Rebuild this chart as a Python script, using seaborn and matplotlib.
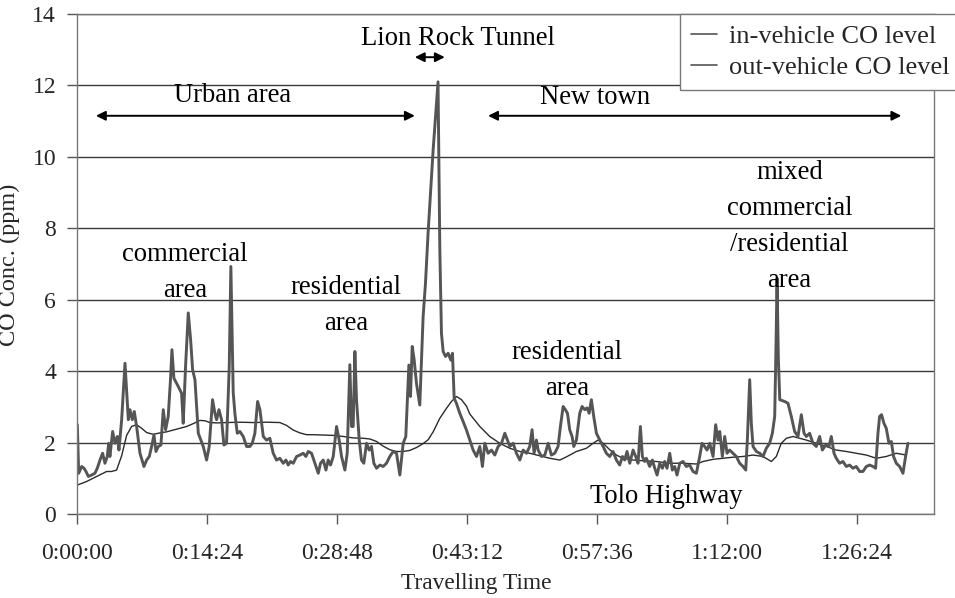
import numpy as np
import pandas as pd
import matplotlib
matplotlib.use("Agg")
import matplotlib.pyplot as plt
import seaborn as sns

# Travelling time in minutes and CO concentration in ppm
out_time = [0.04, 0.19, 0.52, 0.78, 1.0, 1.26, 1.62, 1.99, 2.25, 2.55, 2.84, 3.1, 3.36, 3.51, 3.65,
            3.95, 4.21, 4.47, 4.65, 4.95, 5.32, 5.69, 5.87, 6.13, 6.35, 6.61, 6.98, 7.42, 7.72, 8.01,
            8.27, 8.53, 8.75, 9.01, 9.3, 9.56, 9.82, 10.11, 10.37, 10.52, 10.74, 11.22, 11.59, 11.77,
            12.03, 12.33, 12.59, 12.81, 13.07, 13.44, 13.99, 14.36, 14.65, 15.02, 15.28, 15.47, 15.73,
            16.02, 16.28, 16.57, 16.87, 17.05, 17.31, 17.5, 17.76, 18.05, 18.42, 18.79, 19.16, 19.42,
            19.71, 20.01, 20.27, 20.64, 21.0, 21.37, 21.74, 22.11, 22.48, 22.85, 23.15, 23.4, 23.66,
            23.96, 24.33, 24.7, 25.07, 25.36, 25.62, 25.99, 26.36, 26.73, 26.98, 27.28, 27.58, 27.83,
            28.09, 28.39, 28.76, 29.05, 29.31, 29.68, 29.94, 30.23, 30.42, 30.6, 30.79, 30.97, 31.27,
            31.52, 31.78, 32.08, 32.37, 32.63, 32.89, 33.19, 33.56, 33.92, 34.29, 34.66, 35.03, 35.4,
            35.77, 36.14, 36.43, 36.77, 36.95, 37.14, 37.36, 37.61, 37.98, 38.35, 38.61, 38.9, 39.46,
            40.0, 40.2, 40.38, 40.57, 40.83, 41.12, 41.42, 41.6, 41.79, 42.04, 42.41, 42.78, 43.15,
            43.52, 43.89, 44.26, 44.63, 44.92, 45.18, 45.55, 45.92, 46.29, 46.66, 47.03, 47.4, 47.69,
            47.95, 48.32, 48.69, 49.06, 49.43, 49.8, 50.16, 50.42, 50.64, 50.9, 51.09, 51.46, 51.83,
            52.2, 52.56, 52.93, 53.3, 53.56, 53.86, 54.11, 54.34, 54.59, 54.85, 55.04, 55.33, 55.7,
            55.96, 56.26, 56.51, 56.74, 56.99, 57.25, 57.55, 57.92, 58.29, 58.65, 59.02, 59.39, 59.76,
            60.13, 60.43, 60.68, 60.94, 61.24, 61.61, 61.9, 62.16, 62.42, 62.64, 62.9, 63.08, 63.45,
            63.75, 64.01, 64.27, 64.56, 64.86, 65.11, 65.37, 65.67, 65.96, 66.22, 66.48, 66.78, 67.14,
            67.51, 67.88, 68.25, 68.62, 68.99, 69.25, 69.54, 69.8, 70.1, 70.47, 70.76, 71.02, 71.21,
            71.5, 71.76, 72.02, 72.31, 72.68, 73.05, 73.42, 73.79, 74.09, 74.27, 74.53, 74.71, 74.9,
            75.27, 75.64, 76.0, 76.37, 76.74, 77.04, 77.3, 77.45, 77.56, 77.7, 77.86, 78.4, 78.77,
            79.14, 79.51, 79.88, 80.25, 80.55, 80.8, 81.17, 81.54, 81.91, 82.28, 82.58, 82.94, 83.31,
            83.57, 83.87, 84.12, 84.49, 84.86, 85.23, 85.6, 85.97, 86.34, 86.71, 87.08, 87.45, 87.82,
            88.19, 88.48, 88.74, 88.92, 89.14, 89.4, 89.66, 89.96, 90.22, 90.47, 90.77, 91.14, 91.51,
            91.8, 92.06]
out_co = [2.50, 1.14, 1.33, 1.28, 1.19, 1.05, 1.09, 1.14, 1.28, 1.51, 1.70, 1.42, 1.61, 1.98, 1.61,
          2.31, 1.98, 2.17, 1.79, 2.64, 4.22, 2.64, 2.92, 2.64, 2.87, 2.45, 1.70, 1.33, 1.51, 1.61,
          1.89, 2.21, 1.75, 1.89, 1.93, 2.92, 2.36, 2.73, 3.80, 4.60, 3.80, 3.57, 3.38, 2.54,
          4.13, 5.63, 4.88, 4.04, 3.76, 2.26, 1.89, 1.51, 1.89, 3.20, 2.82, 2.64, 2.92,
          2.64, 1.93, 1.98, 4.13, 6.93, 3.40, 2.80, 2.26, 2.31, 2.17, 1.89, 1.89, 1.98,
          2.26, 3.15, 2.92, 2.17, 2.07, 2.12, 1.70, 1.51, 1.56, 1.42, 1.51, 1.37, 1.47,
          1.42, 1.61, 1.65, 1.70, 1.61, 1.75, 1.70, 1.42, 1.14, 1.42, 1.51, 1.23, 1.51,
          1.37, 1.61, 2.45, 2.07, 1.61, 1.23, 1.70, 4.18, 2.45, 2.45, 4.55, 3.20, 2.07,
          1.51, 1.42, 1.98, 1.79, 1.89, 1.42, 1.28, 1.37, 1.33, 1.42, 1.61, 1.75, 1.70,
          1.09, 1.98, 2.17, 4.17, 3.29, 4.69, 4.31, 3.66, 3.05, 5.53, 6.46, 7.87, 10.2,
          12.1, 7.4, 5.06, 4.55, 4.41, 4.50, 4.31, 4.50, 3.24, 3.10, 2.82, 2.59, 2.35,
          2.07, 1.79, 1.61, 1.89, 1.33, 1.98, 1.70, 1.79, 1.65, 1.89, 1.98, 2.26, 2.07,
          1.89, 1.98, 1.70, 1.51, 1.79, 1.70, 1.89, 2.36, 1.70, 2.07, 1.79, 1.61, 1.65,
          1.98, 1.65, 1.70, 1.89, 2.45, 3.01, 2.92, 2.82, 2.36, 2.17, 1.89, 2.07, 2.82,
          3.01, 2.92, 2.97, 2.82, 3.20, 2.73, 2.26, 2.07, 1.89, 1.70, 1.61, 1.75, 1.51,
          1.37, 1.61, 1.51, 1.75, 1.42, 1.79, 1.61, 1.42, 2.45, 1.61, 1.47, 1.56, 1.33,
          1.51, 1.28, 1.09, 1.42, 1.28, 1.47, 1.28, 1.70, 1.23, 1.33, 1.09, 1.42, 1.47,
          1.33, 1.37, 1.19, 1.14, 1.61, 1.98, 1.89, 1.79, 1.98, 1.61, 2.50, 2.07, 2.31,
          1.61, 2.17, 1.70, 1.79, 1.70, 1.61, 1.42, 1.33, 1.23, 2.07, 3.76, 2.54, 1.89,
          1.75, 1.70, 1.61, 1.84, 1.98, 2.26, 2.73, 4.80, 6.60, 4.40, 3.20, 3.15, 3.10,
          2.73, 2.31, 2.17, 2.78, 2.26, 2.17, 2.26, 1.98, 1.89, 2.17, 1.79, 1.93, 1.89,
          2.17, 1.70, 1.56, 1.42, 1.47, 1.33, 1.37, 1.28, 1.33, 1.19, 1.19, 1.33, 1.37,
          1.33, 1.28, 2.26, 2.73, 2.78, 2.54, 2.40, 1.98, 2.03, 1.61, 1.42, 1.33, 1.14,
          1.61, 1.98]

in_time = [0.04, 1.07, 2.18, 3.29, 3.84, 4.39, 4.95, 5.5, 6.05, 6.6, 7.16, 7.72, 8.45, 9.19, 9.93,
           10.67, 11.41, 12.15, 12.88, 13.62, 14.18, 14.73, 15.47, 16.57, 18.05, 19.53, 21.0, 22.48,
           23.22, 23.96, 24.7, 25.43, 26.17, 27.28, 28.39, 29.49, 30.6, 31.71, 32.45, 33.19, 33.92,
           34.66, 35.4, 36.14, 36.88, 37.61, 38.35, 38.91, 39.46, 40.2, 40.94, 41.49, 42.04, 42.6,
           43.15, 43.52, 44.63, 45.73, 46.84, 47.95, 49.06, 50.16, 51.27, 52.38, 53.49, 54.23, 55.33,
           56.44, 57.18, 57.73, 58.29, 59.02, 59.76, 60.5, 61.61, 62.72, 64.19, 65.67, 67.14, 68.62,
           69.36, 70.47, 71.57, 72.68, 73.79, 74.9, 76.0, 76.93, 77.48, 78.03, 78.59, 79.33, 80.06,
           80.8, 81.91, 83.02, 84.12, 85.23, 86.34, 87.45, 88.56, 89.66, 90.77, 91.88]
in_co = [0.81, 0.91, 1.05, 1.19, 1.19, 1.23, 1.63, 2.20, 2.45, 2.50, 2.40, 2.28, 2.23, 2.27, 2.30,
         2.35, 2.40, 2.45, 2.53, 2.62, 2.61, 2.56, 2.55, 2.56, 2.57, 2.56, 2.57, 2.56,
         2.48, 2.35, 2.27, 2.22, 2.22, 2.21, 2.20, 2.17, 2.13, 2.12, 2.10, 2.03, 1.90,
         1.80, 1.75, 1.75, 1.78, 1.86, 1.97, 2.08, 2.30, 2.68, 2.96, 3.15, 3.29, 3.20,
         3.02, 2.80, 2.45, 2.17, 1.98, 1.84, 1.75, 1.70, 1.63, 1.56, 1.51, 1.60, 1.75,
         1.84, 1.98, 2.07, 1.98, 1.80, 1.65, 1.56, 1.51, 1.49, 1.47, 1.42, 1.42, 1.40,
         1.47, 1.53, 1.56, 1.59, 1.61, 1.65, 1.61, 1.47, 1.61, 1.98, 2.12, 2.17, 2.12,
         2.07, 1.98, 1.89, 1.79, 1.75, 1.70, 1.65, 1.56, 1.61, 1.70, 1.65]

series_names = ["in-vehicle CO level", "out-vehicle CO level"]
x_ticks = [0, 14.4, 28.8, 43.2, 57.6, 72.0, 86.4]
x_tick_labels = ["0:00:00", "0:14:24", "0:28:48", "0:43:12", "0:57:36", "1:12:00", "1:26:24"]
y_ticks = [0, 2, 4, 6, 8, 10, 12, 14]

# Route segments (start, end) in minutes
urban_span = (2.1, 37.43)
tunnel_span = (37.43, 40.75)
newtown_span = (45.55, 91.33)

sns.set_theme(style="white")
plt.rcParams["font.family"] = ["Liberation Serif", "DejaVu Serif"]

in_df = pd.DataFrame({"time": in_time, "co": in_co})
out_df = pd.DataFrame({"time": out_time, "co": out_co})

fig = plt.figure(figsize=(9.55, 5.98), dpi=100)
ax = fig.add_axes([0.0806, 0.1405, 0.8979, 0.8361])

sns.lineplot(data=in_df, x="time", y="co", ax=ax, color="#2b2b2b", linewidth=1.0,
             label=series_names[0], estimator=None, sort=False)
sns.lineplot(data=out_df, x="time", y="co", ax=ax, color="#555555", linewidth=2.1,
             label=series_names[1], estimator=None, sort=False)

ax.set_xlim(0, 95.0)
ax.set_ylim(0, 14)
ax.set_yticks(y_ticks)
ax.set_xticks(x_ticks)
ax.set_xticklabels(x_tick_labels)
ax.yaxis.grid(True, color="#3a3a3a", linewidth=1.0)
ax.xaxis.grid(False)
for side in ["left", "right", "top", "bottom"]:
    ax.spines[side].set_color("#777777")
    ax.spines[side].set_linewidth(1.0)
ax.tick_params(axis="x", direction="out", length=7, width=1, color="#555555",
               labelsize=17, pad=14, bottom=True)
ax.tick_params(axis="y", direction="out", length=7, width=1, color="#555555",
               labelsize=17, pad=8, left=True)

ax.set_xlabel("Travelling Time", fontsize=16.8)
ax.set_ylabel("CO Conc. (ppm)", fontsize=17.5)
ax.xaxis.set_label_coords(0.466, -0.118)
ax.yaxis.set_label_coords(-0.066, 0.498)

text_kw = dict(fontsize=19.2, ha="center", va="center", color="black")
ax.text(42.25, 13.3, "Lion Rock Tunnel", **text_kw)
ax.text(17.2, 11.72, "Urban area", **text_kw)
ax.text(57.4, 11.66, "New town", **text_kw)
ax.text(11.96, 6.76, "commercial\narea", linespacing=1.58, **text_kw)
ax.text(29.8, 5.83, "residential\narea", linespacing=1.58, **text_kw)
ax.text(54.3, 4.02, "residential\narea", linespacing=1.58, **text_kw)
ax.text(78.96, 8.05, "mixed\ncommercial\n/residential\narea", linespacing=1.58, **text_kw)
ax.text(65.3, 0.5, "Tolo Highway", **text_kw)

arrow_kw = dict(arrowstyle="<|-|>", color="black", lw=1.4, mutation_scale=14,
                shrinkA=0, shrinkB=0)
ax.annotate("", xy=(urban_span[1], 11.15), xytext=(urban_span[0], 11.15), arrowprops=arrow_kw)
ax.annotate("", xy=(tunnel_span[1], 12.79), xytext=(tunnel_span[0], 12.79), arrowprops=arrow_kw)
ax.annotate("", xy=(newtown_span[1], 11.15), xytext=(newtown_span[0], 11.15), arrowprops=arrow_kw)

leg = ax.legend(loc="upper left", bbox_to_anchor=(680 / 955, 1 - 14 / 598),
                bbox_transform=fig.transFigure, borderaxespad=0, fontsize=19,
                frameon=True, fancybox=False, framealpha=1, edgecolor="#777777",
                handlelength=1.0, handletextpad=0.45, borderpad=0.4, labelspacing=0.3)
leg.get_frame().set_linewidth(1.0)
for h in leg.get_lines():
    h.set_color("#555555")
    h.set_linewidth(1.2)

fig.savefig("out.png", dpi=100)
